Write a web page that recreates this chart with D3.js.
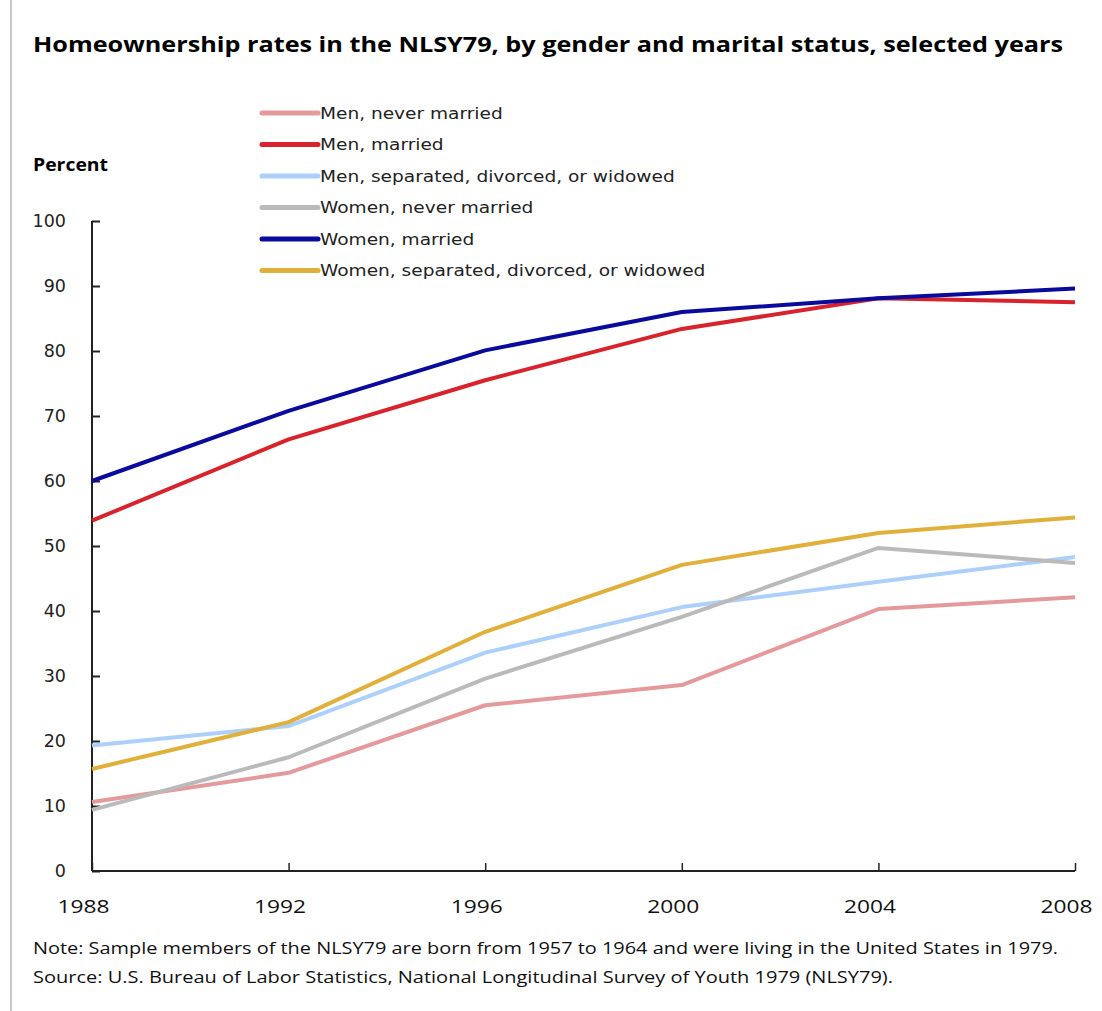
<!DOCTYPE html>
<html><head><meta charset="utf-8">
<script src="https://cdn.jsdelivr.net/npm/d3@7"></script>
<style>body{margin:0;background:#fff}</style>
</head><body>
<script>
const years = [1988, 1992, 1996, 2000, 2004, 2008];
const seriesNames = ["Men, never married","Men, married","Men, separated, divorced, or widowed","Women, never married","Women, married","Women, separated, divorced, or widowed"];
const menNeverMarried = [10.6, 15.1, 25.5, 28.6, 40.3, 42.1];
const menMarried = [53.9, 66.4, 75.5, 83.4, 88.1, 87.5];
const menSeparated = [19.3, 22.3, 33.6, 40.6, 44.5, 48.3];
const womenNeverMarried = [9.4, 17.5, 29.6, 39.1, 49.7, 47.4];
const womenMarried = [60.0, 70.8, 80.1, 86.0, 88.1, 89.6];
const womenSeparated = [15.7, 22.9, 36.8, 47.1, 52.0, 54.4];
const colors = ["#e49a9c","#d8232c","#acd0fa","#bababa","#0a0a9c","#e0b03a"];
const yTicks = [0,10,20,30,40,50,60,70,80,90,100];
const title = "Homeownership rates in the NLSY79, by gender and marital status, selected years";
const note1 = "Note: Sample members of the NLSY79 are born from 1957 to 1964 and were living in the United States in 1979.";
const note2 = "Source: U.S. Bureau of Labor Statistics, National Longitudinal Survey of Youth 1979 (NLSY79).";

const values = [menNeverMarried, menMarried, menSeparated, womenNeverMarried, womenMarried, womenSeparated];
const W = 1102, H = 1011;
const svg = d3.select("body").append("svg").attr("width", W).attr("height", H);

svg.append("line").attr("x1", 11).attr("x2", 11).attr("y1", 0).attr("y2", H)
  .attr("stroke", "#c8c8c8").attr("stroke-width", 2);

svg.append("text").attr("x", 33).attr("y", 52).text(title)
  .attr("font-family", "'Open Sans', sans-serif").attr("font-weight", "bold").attr("font-size", 22)
  .attr("textLength", 1030).attr("lengthAdjust", "spacingAndGlyphs").attr("fill", "#000");

svg.append("text").attr("x", 33).attr("y", 171).text("Percent")
  .attr("font-family", "'Open Sans', sans-serif").attr("font-weight", "bold").attr("font-size", 17)
  .attr("textLength", 75).attr("lengthAdjust", "spacingAndGlyphs");

const x = d3.scaleLinear().domain([1988, 2008]).range([92, 1075]);
const y = d3.scaleLinear().domain([0, 100]).range([871, 221]);

// y axis
const yAxis = svg.append("g").attr("transform", "translate(92,0)")
  .call(d3.axisRight(y).tickValues(yTicks).tickSize(8).tickFormat(d3.format("d")));
yAxis.select(".domain").attr("stroke", "#222").attr("stroke-width", 2).attr("d", "M0,221V871");
yAxis.selectAll(".tick line").attr("stroke", "#222").attr("stroke-width", 2);
yAxis.selectAll(".tick text").attr("x", -26).attr("text-anchor", "end")
  .attr("font-family", "'DejaVu Sans', sans-serif").attr("font-size", 17.5).attr("fill", "#222");

// x axis
const xAxis = svg.append("g").attr("transform", "translate(0,871)")
  .call(d3.axisTop(x).tickValues(years).tickSize(8).tickFormat(d3.format("d")));
xAxis.select(".domain").attr("stroke", "#222").attr("stroke-width", 2).attr("d", "M92,0H1075");
xAxis.selectAll(".tick line").attr("stroke", "#222").attr("stroke-width", 1.5);
xAxis.selectAll(".tick text").attr("y", 42).attr("dx", -9)
  .attr("font-family", "'Open Sans', sans-serif").attr("font-size", 18).attr("fill", "#111")
  .attr("textLength", 52).attr("lengthAdjust", "spacingAndGlyphs");

// lines
const line = d3.line().x((d, i) => x(years[i])).y(d => y(d));
values.forEach((v, k) => {
  svg.append("path").datum(v).attr("d", line).attr("fill", "none")
    .attr("stroke", colors[k]).attr("stroke-width", 4).attr("stroke-linejoin", "round");
});

// legend
const lg = svg.append("g");
seriesNames.forEach((n, k) => {
  const ly = 113 + k * 31.5;
  lg.append("line").attr("x1", 262).attr("x2", 318).attr("y1", ly).attr("y2", ly)
    .attr("stroke", colors[k]).attr("stroke-width", 5).attr("stroke-linecap", "round");
  lg.append("text").attr("x", 320).attr("y", ly + 6).text(n)
    .attr("font-family", "'DejaVu Sans', sans-serif").attr("font-size", 16).attr("fill", "#222")
    .attr("transform", `translate(320,0) scale(1.16,1) translate(-320,0)`);
});

svg.append("text").attr("x", 33).attr("y", 954).text(note1)
  .attr("font-family", "'Open Sans', sans-serif").attr("font-size", 16)
  .attr("textLength", 1025).attr("lengthAdjust", "spacingAndGlyphs").attr("fill", "#111");
svg.append("text").attr("x", 33).attr("y", 983).text(note2)
  .attr("font-family", "'Open Sans', sans-serif").attr("font-size", 16)
  .attr("textLength", 860).attr("lengthAdjust", "spacingAndGlyphs").attr("fill", "#111");
</script>
</body></html>
